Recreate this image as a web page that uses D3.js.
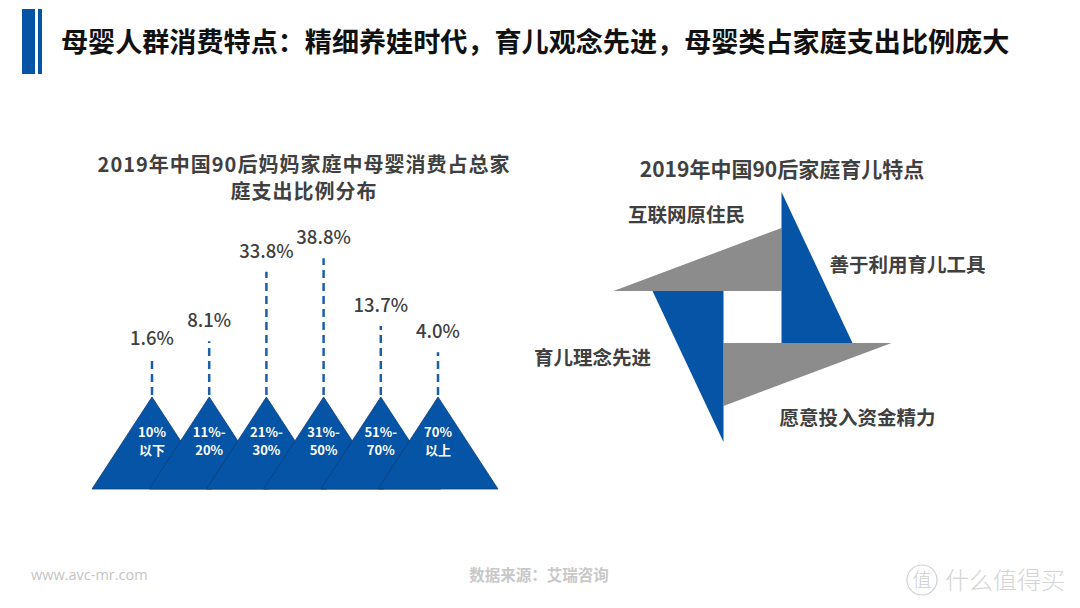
<!DOCTYPE html>
<html>
<head>
<meta charset="utf-8">
<script src="https://cdn.jsdelivr.net/npm/d3@7"></script>
<style>
  html, body { margin: 0; padding: 0; background: #fff; }
  svg { display: block; font-family: "Noto Sans CJK SC", "Noto Sans", sans-serif; }
</style>
</head>
<body>
<svg id="chart" width="1080" height="608"></svg>
<script>
// ---- data ----
const pageTitle = "母婴人群消费特点：精细养娃时代，育儿观念先进，母婴类占家庭支出比例庞大";
const leftTitle = ["2019年中国90后妈妈家庭中母婴消费占总家", "庭支出比例分布"];
const rightTitle = "2019年中国90后家庭育儿特点";
const categoriesTop = ["10%", "11%-", "21%-", "31%-", "51%-", "70%"];
const categoriesBottom = ["以下", "20%", "30%", "50%", "70%", "以上"];
const shares = [1.6, 8.1, 33.8, 38.8, 13.7, 4.0];
const features = ["互联网原住民", "善于利用育儿工具", "愿意投入资金精力", "育儿理念先进"];
const sourceText = "数据来源：艾瑞咨询";
const siteText = "www.avc-mr.com";

const BLUE = "#0654a6";
const DARK = "#404040";
const GRAY = "#8c8c8c";

const svg = d3.select("#chart");

// ---- header ----
svg.append("rect").attr("x", 22).attr("y", 9).attr("width", 13).attr("height", 65).attr("fill", BLUE);
svg.append("rect").attr("x", 38).attr("y", 9).attr("width", 4).attr("height", 65).attr("fill", BLUE);
svg.append("text").attr("x", 61).attr("y", 52)
  .attr("font-size", 27.1).attr("font-weight", 700).attr("fill", "#111")
  .text(pageTitle);

// ---- left chart ----
const leftG = svg.append("g");
leftG.selectAll("text.ltitle").data(leftTitle).join("text")
  .attr("class", "ltitle")
  .attr("x", 304).attr("y", (d, i) => 172 + i * 26.5)
  .attr("text-anchor", "middle").attr("font-size", 20).attr("letter-spacing", 1)
  .attr("font-weight", 700).attr("fill", DARK)
  .text(d => d);

const idx = d3.range(shares.length);
const x = d3.scalePoint().domain(idx).range([152, 438]);
const baseY = 489, apexY = 397, halfW = 60;
// dashed-line length encodes the share
const len = d3.scaleLinear().domain([0, 40]).range([34, 142]);

// triangles
leftG.selectAll("path.tri").data(idx).join("path")
  .attr("class", "tri")
  .attr("d", i => `M${x(i)},${apexY}L${x(i) + halfW},${baseY}L${x(i) - halfW},${baseY}Z`)
  .attr("fill", BLUE).attr("stroke", "#0a3f7d").attr("stroke-width", 0.8);

// category labels inside triangles (two lines)
leftG.selectAll("text.catTop").data(idx).join("text")
  .attr("class", "catTop")
  .attr("x", i => x(i)).attr("y", 437)
  .attr("text-anchor", "middle").attr("font-size", 13).attr("font-weight", 700).attr("fill", "#fff")
  .text(i => categoriesTop[i]);
leftG.selectAll("text.catBot").data(idx).join("text")
  .attr("class", "catBot")
  .attr("x", i => x(i)).attr("y", 455)
  .attr("text-anchor", "middle").attr("font-size", 13).attr("font-weight", 700).attr("fill", "#fff")
  .text(i => categoriesBottom[i]);

// dashed lines
leftG.selectAll("line.stem").data(idx).join("line")
  .attr("class", "stem")
  .attr("x1", i => x(i)).attr("x2", i => x(i))
  .attr("y1", apexY - 2).attr("y2", i => apexY - len(shares[i]))
  .attr("stroke", "#1d5eab").attr("stroke-width", 2.5).attr("stroke-dasharray", "8,5");

// value labels
leftG.selectAll("text.val").data(idx).join("text")
  .attr("class", "val")
  .attr("x", i => x(i)).attr("y", i => apexY - len(shares[i]) - 14)
  .attr("text-anchor", "middle").attr("font-size", 18.5).attr("font-weight", 500).attr("fill", DARK)
  .text(i => shares[i].toFixed(1) + "%");

// ---- right diagram ----
const rightG = svg.append("g");
rightG.append("text").attr("x", 782).attr("y", 177)
  .attr("text-anchor", "middle").attr("font-size", 21).attr("font-weight", 700).attr("fill", DARK)
  .text(rightTitle);

const cx = 752.5, cy = 317;
const grayTri = [[-139, -26], [29, -89], [29, -26]];
const blueTri = [[29, -125], [29, 26], [100, 26]];
const rot = pts => pts.map(([a, b]) => [-a, -b]);
const shapes = [
  { pts: grayTri, fill: GRAY },
  { pts: blueTri, fill: BLUE },
  { pts: rot(grayTri), fill: GRAY },
  { pts: rot(blueTri), fill: BLUE }
];
const line = d3.line().x(d => cx + d[0]).y(d => cy + d[1]).curve(d3.curveLinearClosed);
rightG.selectAll("path.pw").data(shapes).join("path")
  .attr("class", "pw").attr("d", d => line(d.pts)).attr("fill", d => d.fill);

const featurePos = [[-66, -102], [155, -52], [105, 101], [-160, 41]];
rightG.selectAll("text.feat").data(features).join("text")
  .attr("class", "feat")
  .attr("x", (d, i) => cx + featurePos[i][0]).attr("y", (d, i) => cy + featurePos[i][1] + 7)
  .attr("text-anchor", "middle")
  .attr("font-size", 19.5).attr("font-weight", 700).attr("fill", DARK)
  .text(d => d);

// ---- footer ----
svg.append("text").attr("x", 31).attr("y", 580).attr("font-size", 14.5).attr("fill", "#c4c4c4")
  .attr("font-family", "'Open Sans', sans-serif").text(siteText);
svg.append("text").attr("x", 539).attr("y", 581).attr("text-anchor", "middle")
  .attr("font-size", 15.5).attr("font-weight", 700).attr("fill", "#c8c8c8").text(sourceText);
// watermark
svg.append("circle").attr("cx", 922).attr("cy", 580).attr("r", 15)
  .attr("fill", "none").attr("stroke", "#d0d0d0").attr("stroke-width", 1.2);
svg.append("text").attr("x", 922).attr("y", 587).attr("text-anchor", "middle")
  .attr("font-size", 19).attr("font-weight", 300).attr("fill", "#cfcfcf").text("值");
svg.append("text").attr("x", 945).attr("y", 589)
  .attr("font-size", 24).attr("font-weight", 300).attr("fill", "#d4d4d4").text("什么值得买");
</script>
</body>
</html>
